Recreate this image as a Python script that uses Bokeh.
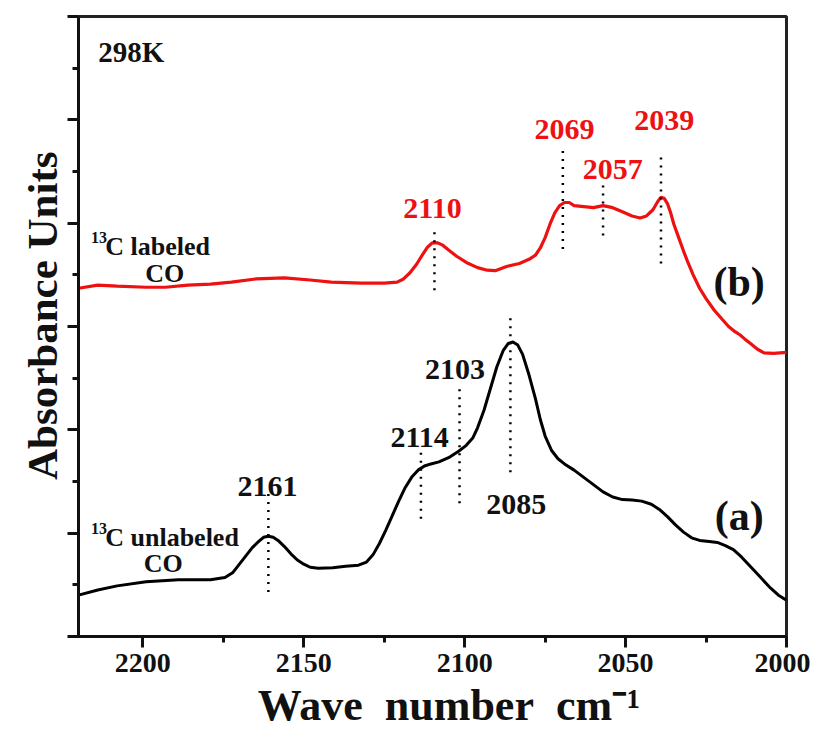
from bokeh.plotting import figure
from bokeh.models import Range1d, FixedTicker, Label
from bokeh.core.properties import value
from bokeh.embed import file_html
from bokeh.resources import INLINE

# ---------------- data ----------------
# (a) 13C unlabeled CO  (black)
wn_a = [2220, 2214, 2208, 2199, 2189, 2179, 2174.5, 2172, 2170, 2168, 2166, 2164,
        2162.5, 2161, 2159.5, 2158, 2156, 2154, 2152, 2150, 2148, 2145.5, 2141,
        2137, 2133, 2130.5, 2128.5, 2126.5, 2124.5, 2122.5, 2120.5, 2118.5, 2116.5,
        2114.5, 2112.5, 2110.5, 2108, 2105, 2102, 2099.5, 2097.5, 2096, 2094,
        2092, 2090, 2088, 2086.5, 2085, 2083.5, 2082, 2080, 2078, 2076.5, 2075,
        2073, 2071, 2069, 2066, 2063, 2060, 2057, 2054, 2051, 2048, 2045, 2042,
        2039.5, 2037, 2034.5, 2032, 2029.5, 2027, 2024, 2021.5, 2019, 2016.5, 2014,
        2011, 2008, 2005, 2002.5, 2000]
abs_a = [0.40, 0.45, 0.49, 0.53, 0.55, 0.55, 0.57, 0.62, 0.70, 0.78, 0.86, 0.92,
         0.96, 0.97, 0.96, 0.93, 0.87, 0.80, 0.74, 0.70, 0.67, 0.66, 0.665,
         0.68, 0.69, 0.72, 0.79, 0.90, 1.03, 1.17, 1.31, 1.44, 1.54,
         1.61, 1.65, 1.67, 1.69, 1.73, 1.79, 1.85, 1.92, 2.02, 2.19,
         2.40, 2.61, 2.77, 2.835, 2.85, 2.82, 2.73, 2.53, 2.30, 2.10, 1.94,
         1.80, 1.72, 1.67, 1.61, 1.54, 1.47, 1.40, 1.35, 1.325, 1.32, 1.31, 1.28,
         1.23, 1.16, 1.08, 1.01, 0.955, 0.93, 0.92, 0.91, 0.88, 0.84, 0.77,
         0.67, 0.57, 0.47, 0.40, 0.35]

# (b) 13C labeled CO  (red)
wn_b = [2220, 2214, 2208, 2199, 2193, 2186, 2179, 2172.5, 2165, 2156, 2148, 2141.5,
        2132, 2125, 2121, 2119, 2117, 2115, 2113, 2111.5, 2110, 2108.5, 2107,
        2105, 2102.5, 2099.5, 2096, 2093, 2090.5, 2087, 2083, 2080, 2078, 2076.5,
        2075, 2073.5, 2072, 2070.5, 2069, 2067.5, 2066, 2063, 2060, 2057, 2054,
        2051, 2048, 2045.5, 2043.5, 2041.5, 2040, 2039, 2038, 2037, 2036, 2035,
        2033.5, 2032, 2030.5, 2029, 2027, 2025, 2022.5, 2020, 2018, 2016, 2014.5,
        2013, 2011, 2009, 2007, 2004, 2000]
abs_b = [3.37, 3.40, 3.39, 3.38, 3.38, 3.40, 3.41, 3.43, 3.46, 3.47, 3.45, 3.43,
         3.42, 3.42, 3.43, 3.46, 3.52, 3.60, 3.70, 3.77, 3.81, 3.81, 3.79,
         3.74, 3.68, 3.62, 3.57, 3.545, 3.54, 3.58, 3.61, 3.65, 3.69, 3.76,
         3.86, 3.99, 4.10, 4.17, 4.20, 4.20, 4.17, 4.16, 4.15, 4.17, 4.15,
         4.11, 4.07, 4.05, 4.07, 4.13, 4.21, 4.25, 4.24, 4.19, 4.10, 3.99,
         3.86, 3.73, 3.61, 3.50, 3.37, 3.27, 3.16, 3.07, 3.00, 2.95, 2.92,
         2.88, 2.83, 2.78, 2.745, 2.74, 2.75]

# peak labels
peak_a_text = ["2161", "2114", "2103", "2085"]
peak_a_x = [2161.3, 2114.0, 2103.0, 2084.0]
peak_a_y = [1.45, 1.93, 2.58, 1.28]
peak_b_text = ["2110", "2069", "2057", "2039"]
peak_b_x = [2110.0, 2069.0, 2054.0, 2038.0]
peak_b_y = [4.14, 4.91, 4.52, 4.99]

# dotted peak markers
mark_x = [2161.0, 2113.6, 2101.6, 2085.8, 2109.4, 2069.5, 2057.0, 2039.0]
mark_top = [1.38, 1.83, 2.45, 3.08, 3.95, 4.71, 4.37, 4.68]
mark_bot = [0.43, 1.14, 1.29, 1.59, 3.35, 3.75, 3.88, 3.61]

x_major = [2200, 2150, 2100, 2050, 2000]
x_minor = [2175, 2125, 2075, 2025]
y_major = [0, 1, 2, 3, 4, 5, 6]
y_minor = [0.5, 1.5, 2.5, 3.5, 4.5, 5.5]

FONT = "Liberation Serif"
RED = "#ee1111"
INK = "#111111"
NB = "\u00a0"

p = figure(frame_width=708, frame_height=620, x_range=Range1d(2220, 2000),
           y_range=Range1d(0, 6), output_backend="svg", toolbar_location=None,
           min_border_left=78, min_border_right=24, min_border_top=16,
           min_border_bottom=96)
p.grid.visible = False
p.outline_line_color = "#222222"
p.outline_line_width = 3
p.background_fill_color = "white"
p.border_fill_color = "white"

# axes
p.xaxis.ticker = FixedTicker(ticks=x_major, minor_ticks=x_minor)
p.yaxis.ticker = FixedTicker(ticks=y_major, minor_ticks=y_minor)
for ax in (p.xaxis[0], p.yaxis[0]):
    ax.axis_line_width = 3
    ax.axis_line_color = INK
    ax.major_tick_line_width = 3
    ax.minor_tick_line_width = 3
    ax.major_tick_line_color = INK
    ax.minor_tick_line_color = INK
    ax.major_tick_in = 0
    ax.minor_tick_in = 0
    ax.major_tick_out = 11
    ax.minor_tick_out = 6
    ax.axis_label_text_font = FONT
    ax.axis_label_text_font_style = "bold"
    ax.axis_label_text_color = INK

p.xaxis.major_label_text_font = FONT
p.xaxis.major_label_text_font_style = "bold"
p.xaxis.major_label_text_font_size = "28px"
p.xaxis.major_label_text_color = INK
p.xaxis.major_label_standoff = 6
p.xaxis.axis_label = NB * 3 + "Wave" + NB + " number" + NB + " cm\u207b\u00b9"
p.xaxis.axis_label_text_font_size = "44px"
p.xaxis.axis_label_standoff = 6

p.yaxis.major_label_overrides = {v: "" for v in y_major}
p.yaxis.major_label_text_color = None
p.yaxis.major_label_text_font_size = "1px"
p.yaxis.axis_label = NB * 2 + "Absorbance Units"
p.yaxis.axis_label_text_font_size = "43px"
p.yaxis.axis_label_standoff = 2

# curves
p.line(wn_a, abs_a, line_color="black", line_width=3)
p.line(wn_b, abs_b, line_color=RED, line_width=3.2)

# dotted markers
p.segment(x0=mark_x, y0=mark_bot, x1=mark_x, y1=mark_top, line_color="black",
          line_width=2.5, line_dash="2 6")

# peak labels
p.text(x=peak_a_x, y=peak_a_y, text=peak_a_text, text_font=value(FONT),
       text_font_style="bold", text_font_size="30px", text_color=INK,
       text_align="center", text_baseline="alphabetic")
p.text(x=peak_b_x, y=peak_b_y, text=peak_b_text, text_font=value(FONT),
       text_font_style="bold", text_font_size="30px", text_color=RED,
       text_align="center", text_baseline="alphabetic")


def lab(x, y, t, size, align="left", baseline="alphabetic", color=INK):
    p.add_layout(Label(x=x, y=y, text=t, text_font=FONT, text_font_style="bold",
                       text_font_size=size, text_color=color, text_align=align,
                       text_baseline=baseline))


lab(2213.9, 5.66, "298K", "29px")
lab(2216.1, 3.86, "13", "16px")
lab(2211.7, 3.77, "C labeled", "26px")
lab(2193.2, 3.51, "CO", "26px", align="center")
lab(2216.1, 1.05, "13", "16px")
lab(2211.7, 0.96, "C unlabeled", "26px")
lab(2193.7, 0.71, "CO", "26px", align="center")
lab(2014.7, 3.43, "(b)", "42px", align="center", baseline="middle")
lab(2014.7, 1.17, "(a)", "42px", align="center", baseline="middle")

open("out.html", "w").write(file_html(p, INLINE))
